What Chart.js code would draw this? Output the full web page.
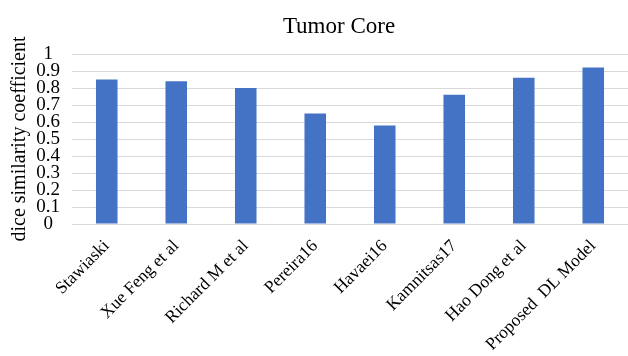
<!DOCTYPE html>
<html>
<head>
<meta charset="utf-8">
<script src="https://cdn.jsdelivr.net/npm/chart.js@4.4.1/dist/chart.umd.min.js"></script>
<style>
  html, body { margin: 0; padding: 0; background: #ffffff; }
  #wrap { width: 628px; height: 356px; position: relative; }
</style>
</head>
<body>
<div id="wrap"><canvas id="c" width="628" height="356"></canvas></div>
<script>
// Dice similarity coefficient per method, tumor core region
const methods = ['Stawiaski', 'Xue Feng et al', 'Richard M et al', 'Pereira16', 'Havaei16', 'Kamnitsas17', 'Hao Dong et al', 'Proposed  DL Model'];
const diceScores = [0.85, 0.84, 0.80, 0.65, 0.58, 0.76, 0.86, 0.92];
const yTicks = [0, 0.1, 0.2, 0.3, 0.4, 0.5, 0.6, 0.7, 0.8, 0.9, 1];
const chartTitle = 'Tumor Core';
const yTitle = 'dice similarity coefficient';

const serif = '"Liberation Serif", "Times New Roman", serif';

// Title drawn centered above the plotting region
const titlePlugin = {
  id: 'topTitle',
  afterDraw(chart) {
    const ctx = chart.ctx;
    ctx.save();
    ctx.font = '23px ' + serif;
    ctx.fillStyle = '#000000';
    ctx.textAlign = 'center';
    ctx.textBaseline = 'alphabetic';
    ctx.fillText(chartTitle, 339, 33);
    ctx.restore();
  }
};

new Chart(document.getElementById('c'), {
  type: 'bar',
  data: {
    labels: methods,
    datasets: [{
      data: diceScores,
      backgroundColor: '#4472C4',
      borderWidth: 0,
      barPercentage: 0.31,
      categoryPercentage: 1.0
    }]
  },
  options: {
    responsive: false,
    animation: false,
    devicePixelRatio: 1,
    layout: { padding: { top: 54, right: 0, left: 0, bottom: 0 } },
    plugins: {
      legend: { display: false },
      title: { display: false },
      tooltip: { enabled: false }
    },
    scales: {
      x: {
        grid: { display: false, drawTicks: false },
        border: { display: false },
        ticks: {
          color: '#000000',
          font: { family: serif, size: 17.5 },
          minRotation: 45,
          maxRotation: 45,
          autoSkip: false,
          padding: 12
        },
        afterFit(scale) { scale.height = 132; }
      },
      y: {
        min: 0,
        max: 1,
        afterBuildTicks(scale) { scale.ticks = yTicks.map(v => ({ value: v })); },
        grid: { color: '#d9d9d9', lineWidth: 1, drawTicks: false },
        border: { display: false },
        ticks: {
          color: '#000000',
          font: { family: serif, size: 19 },
          crossAlign: 'center',
          autoSkip: false,
          padding: 12,
          callback: v => String(Math.round(v * 10) / 10)
        },
        title: {
          display: true,
          text: yTitle,
          color: '#000000',
          font: { family: serif, size: 20 },
          padding: { top: 8, bottom: 0 }
        },
        afterFit(scale) { scale.width = 72; }
      }
    }
  },
  plugins: [titlePlugin]
});
</script>
</body>
</html>
